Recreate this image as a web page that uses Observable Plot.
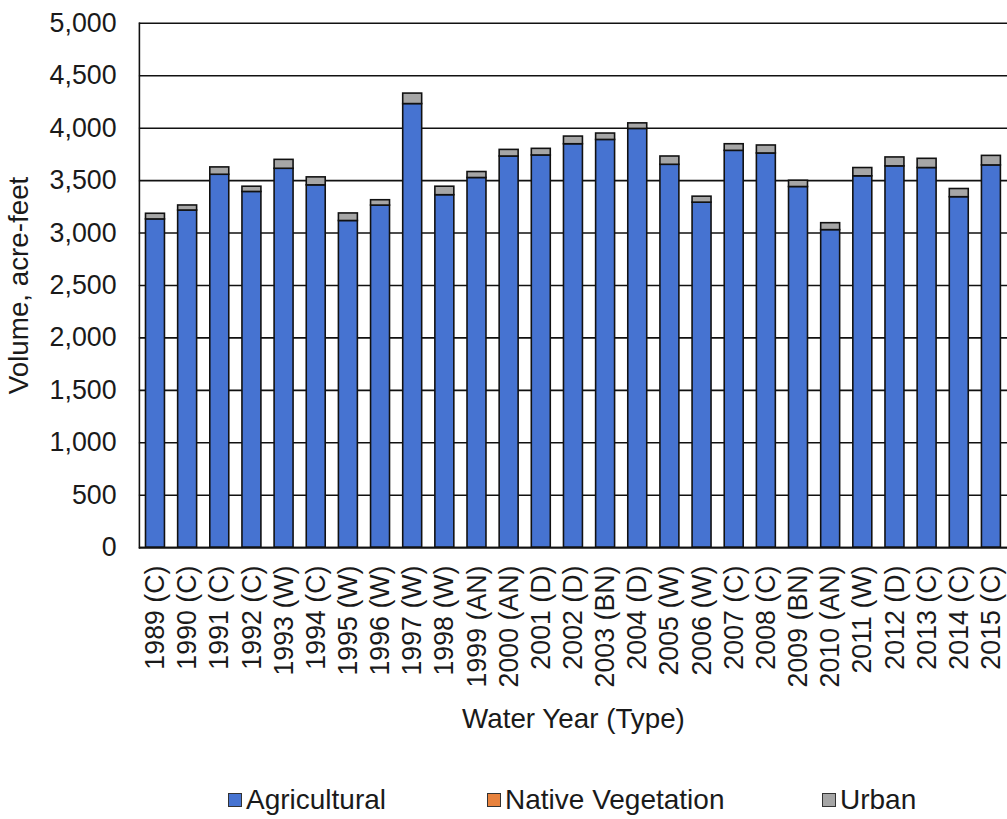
<!DOCTYPE html>
<html><head><meta charset="utf-8">
<script src="https://cdn.jsdelivr.net/npm/d3@7"></script>
<script src="https://cdn.jsdelivr.net/npm/@observablehq/plot@0.6"></script>
<style>
html,body{margin:0;padding:0;background:#fff;overflow:hidden;width:1007px;height:819px}
#wrap{position:relative;width:1007px;height:819px;overflow:hidden;font-family:"Liberation Sans",Arial,sans-serif}
.leg{position:absolute;top:784px;font-size:28px;line-height:32px;color:#1a1a1a;display:flex;align-items:center;white-space:nowrap}
.sw{width:12px;height:12px;border:1.5px solid #333;margin-right:4px;box-sizing:content-box}
</style></head><body><div id="wrap"></div>
<script>
const years = [1989,1990,1991,1992,1993,1994,1995,1996,1997,1998,1999,2000,2001,2002,2003,2004,2005,2006,2007,2008,2009,2010,2011,2012,2013,2014,2015];
const types = ["C","C","C","C","W","C","W","W","W","W","AN","AN","D","D","BN","D","W","W","C","C","BN","AN","W","D","C","C","C"];
const agricultural = [3130,3215,3556,3392,3613,3455,3115,3262,4230,3361,3525,3730,3740,3847,3888,3993,3651,3290,3784,3759,3439,3028,3541,3636,3620,3342,3645];
const nativeVegetation = [0,0,0,0,0,0,0,0,0,0,0,0,0,0,0,0,0,0,0,0,0,0,0,0,0,0,0];
const urban = [54,48,70,50,85,76,72,51,100,81,57,63,63,73,61,53,79,57,63,76,60,66,79,85,88,78,91];
const categories = ["Agricultural","Native Vegetation","Urban"];
const colors = ["#4673d1","#e8823d","#a6a6a6"];
const yTicks = [0,500,1000,1500,2000,2500,3000,3500,4000,4500,5000];

const labels = years.map((y,i)=>`${y} (${types[i]})`);
const series = [agricultural, nativeVegetation, urban];
const rows = [];
labels.forEach((lab,i)=>{
  categories.forEach((c,j)=>rows.push({label:lab, category:c, value:series[j][i]}));
});

const chart = Plot.plot({
  width:1015, height:760,
  marginLeft:140, marginRight:0, marginTop:23, marginBottom:208.5,
  style:{fontFamily:"Liberation Sans, Arial, sans-serif", fontSize:"27px", color:"#1a1a1a", background:"white", overflow:"visible"},
  x:{domain:labels, paddingInner:0.41, paddingOuter:0.205, round:false, label:null},
  y:{domain:[0,5000], label:null},
  color:{domain:categories, range:colors},
  marks:[
    Plot.ruleY(yTicks,{stroke:"#111", strokeWidth:1.6}),
    Plot.barY(rows,{x:"label", y:"value", fill:"category", stroke:"#111", strokeWidth:1.6, order:categories}),
    Plot.ruleY([0],{stroke:"#111", strokeWidth:1.6}),
    Plot.frame({anchor:"left", stroke:"#111", strokeWidth:1.6}),
    Plot.axisY({ticks:yTicks, tickSize:0, tickPadding:23, tickFormat:d3.format(","), fontSize:27}),
    Plot.axisY({ticks:[], tickSize:0, label:"Volume, acre-feet", labelAnchor:"center", labelOffset:132, labelArrow:"none", fontSize:28}),
    Plot.axisX({tickSize:0, tickRotate:-90, tickPadding:18, fontSize:27}),
    Plot.axisX({ticks:[], tickSize:0, label:"Water Year (Type)", labelAnchor:"center", labelOffset:182, labelArrow:"none", fontSize:28})
  ]
});
const wrap = document.getElementById("wrap");
wrap.appendChild(chart);
const lefts = [228,487,822];
categories.forEach((c,i)=>{
  const d = document.createElement("div");
  d.className="leg"; d.style.left = lefts[i]+"px";
  const s = document.createElement("span"); s.className="sw"; s.style.background=colors[i];
  d.appendChild(s); d.appendChild(document.createTextNode(c));
  wrap.appendChild(d);
});
</script>
</body></html>
